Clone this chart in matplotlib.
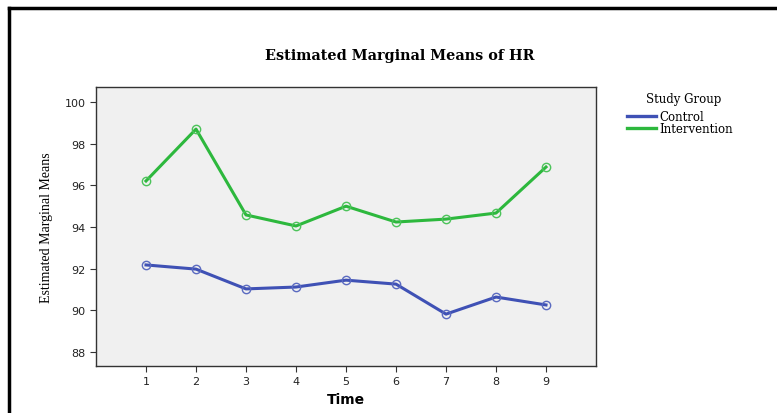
import numpy as np
import matplotlib.pyplot as plt
from matplotlib.lines import Line2D

time = [1, 2, 3, 4, 5, 6, 7, 8, 9]
control = [92.18, 91.98, 91.03, 91.12, 91.45, 91.26, 89.82, 90.64, 90.26]
intervention = [96.21, 98.70, 94.58, 94.05, 95.00, 94.24, 94.38, 94.67, 96.88]
yticks = [88, 90, 92, 94, 96, 98, 100]

W, H = 777, 414
fig = plt.figure(figsize=(W / 100, H / 100), dpi=100)
ax = fig.add_axes([96 / W, 1 - 367 / H, 500 / W, 279 / H])
ax.set_facecolor("#f0f0f0")

ax.plot(time, control, color="#3f51b5", lw=2.2, marker="o", ms=6,
        mfc="none", mec="#5a6ac0", mew=1.0, label="Control")
ax.plot(time, intervention, color="#2db83d", lw=2.2, marker="o", ms=6,
        mfc="none", mec="#4cc35a", mew=1.0, label="Intervention")

ax.set_xlim(0, 10)
ax.set_ylim(87.33, 100.72)
ax.set_xticks(time)
ax.set_yticks(yticks)
ax.tick_params(labelsize=8, length=4, color="#333333", labelcolor="#222222")
for s in ax.spines.values():
    s.set_color("#333333")
    s.set_linewidth(1.0)

ax.set_xlabel("Time", fontsize=10, fontweight="bold", family="DejaVu Sans", labelpad=4)
ax.set_ylabel("Estimated Marginal Means", fontsize=10, family="Liberation Serif",
              labelpad=8)

fig.text(400 / W, 1 - 56 / H, "Estimated Marginal Means of HR", ha="center", va="center",
         fontsize=10.4, fontweight="bold", family="DejaVu Serif")

# legend title placed by hand so the gap to the entries matches
fig.text(684 / W, 1 - 100 / H, "Study Group", ha="center", va="center",
         fontsize=8.5, family="DejaVu Serif")
leg = ax.legend(loc="upper left", bbox_to_anchor=(619 / W, 1 - 103 / H),
                bbox_transform=fig.transFigure, frameon=False,
                prop={"family": "DejaVu Serif", "size": 8.5}, handlelength=2.4,
                handletextpad=0.3, labelspacing=-0.1, borderpad=0.2)
for h in leg.legend_handles:
    h.set_marker("")
    h.set_linewidth(2.4)

# page frame
fig.add_artist(Line2D([8.5 / W, 8.5 / W], [0, 1 - 9 / H], color="black", lw=2.5,
                      transform=fig.transFigure))
fig.add_artist(Line2D([8.5 / W, 1], [1 - 9 / H, 1 - 9 / H], color="black", lw=2.5,
                      transform=fig.transFigure))

fig.savefig("out.png", dpi=100)
